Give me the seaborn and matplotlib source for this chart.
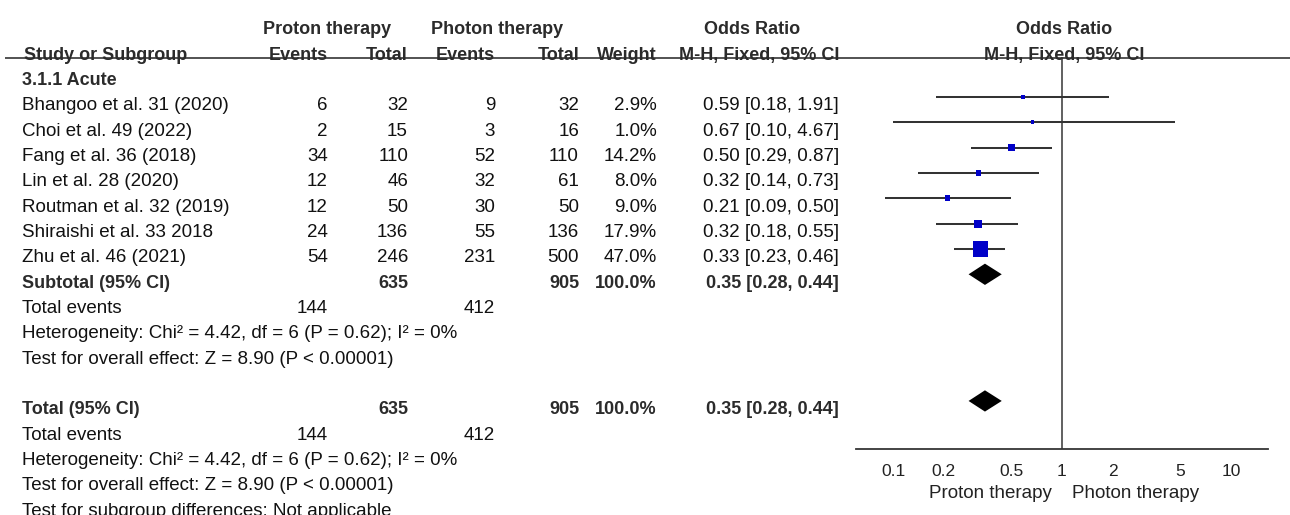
import matplotlib
matplotlib.use("Agg")
import matplotlib.pyplot as plt
import seaborn as sns
import pandas as pd
import numpy as np
from matplotlib.ticker import NullLocator

# ---------------- data ----------------
studies = ["Bhangoo et al. 31 (2020)", "Choi et al. 49 (2022)", "Fang et al. 36 (2018)",
           "Lin et al. 28 (2020)", "Routman et al. 32 (2019)", "Shiraishi et al. 33 2018",
           "Zhu et al. 46 (2021)"]
proton_events = [6, 2, 34, 12, 12, 24, 54]
proton_total = [32, 15, 110, 46, 50, 136, 246]
photon_events = [9, 3, 52, 32, 30, 55, 231]
photon_total = [32, 16, 110, 61, 50, 136, 500]
weights = [2.9, 1.0, 14.2, 8.0, 9.0, 17.9, 47.0]
or_est = [0.59, 0.67, 0.50, 0.32, 0.21, 0.32, 0.33]
or_lo = [0.18, 0.10, 0.29, 0.14, 0.09, 0.18, 0.23]
or_hi = [1.91, 4.67, 0.87, 0.73, 0.50, 0.55, 0.46]

pooled_or = [0.35, 0.28, 0.44]          # estimate, low, high
sum_proton_total = 635
sum_photon_total = 905
sum_proton_events = 144
sum_photon_events = 412
sum_weight = "100.0%"

tick_values = [0.1, 0.2, 0.5, 1, 2, 5, 10]
tick_labels = ["0.1", "0.2", "0.5", "1", "2", "5", "10"]

het_text = "Heterogeneity: Chi² = 4.42, df = 6 (P = 0.62); I² = 0%"
effect_text = "Test for overall effect: Z = 8.90 (P < 0.00001)"
subgroup_text = "Test for subgroup differences: Not applicable"

# ---------------- style ----------------
sns.set_theme(style="white")
plt.rcParams["font.family"] = ["Liberation Sans", "DejaVu Sans"]

W, H = 1290, 515
fig = plt.figure(figsize=(W / 100, H / 100), dpi=100)

TXT = "#111111"
HDR = "#2b2b2b"
LINE = "#353535"
FS = 13.5
FS_B = 13

ROW_C0, ROW_H = 28.0, 25.33     # text centre (px) of row 0, row height
MARK_OFF = -7.0                  # markers sit a little above text centre

def base(r):
    return ROW_C0 + ROW_H * r + 6.3

tab = fig.add_axes([0, 0, 1, 1])
tab.set_xlim(0, W)
tab.set_ylim(H, 0)
tab.axis("off")

def t(x, r, s, ha="left", bold=False, color=TXT):
    tab.text(x, base(r), s, ha=ha, va="baseline", fontsize=FS_B if bold else FS,
             fontweight="bold" if bold else "normal", color=color)

# column anchors (px)
X_NAME = 22
X_PE, X_PT, X_HE, X_HT, X_W, X_OR = 328, 408, 495, 579, 657, 839

# header
t(327, 0, "Proton therapy", ha="center", bold=True, color=HDR)
t(497, 0, "Photon therapy", ha="center", bold=True, color=HDR)
t(752, 0, "Odds Ratio", ha="center", bold=True, color=HDR)
t(1064, 0, "Odds Ratio", ha="center", bold=True, color=HDR)
t(24, 1, "Study or Subgroup", bold=True, color=HDR)
t(X_PE, 1, "Events", ha="right", bold=True, color=HDR)
t(X_PT, 1, "Total", ha="right", bold=True, color=HDR)
t(X_HE, 1, "Events", ha="right", bold=True, color=HDR)
t(X_HT, 1, "Total", ha="right", bold=True, color=HDR)
t(X_W, 1, "Weight", ha="right", bold=True, color=HDR)
t(759, 1, "M-H, Fixed, 95% CI", ha="center", bold=True, color=HDR)
t(1064, 1, "M-H, Fixed, 95% CI", ha="center", bold=True, color=HDR)
tab.plot([5, W], [58, 58], color=LINE, lw=1.2, solid_capstyle="butt")

t(X_NAME, 2, "3.1.1 Acute", bold=True, color=HDR)
for i, name in enumerate(studies):
    r = 3 + i
    t(X_NAME, r, name)
    t(X_PE, r, str(proton_events[i]), ha="right")
    t(X_PT, r, str(proton_total[i]), ha="right")
    t(X_HE, r, str(photon_events[i]), ha="right")
    t(X_HT, r, str(photon_total[i]), ha="right")
    t(X_W, r, f"{weights[i]:.1f}%", ha="right")
    t(X_OR, r, f"{or_est[i]:.2f} [{or_lo[i]:.2f}, {or_hi[i]:.2f}]", ha="right")

or_sum_txt = f"{pooled_or[0]:.2f} [{pooled_or[1]:.2f}, {pooled_or[2]:.2f}]"
for r0, label in [(10, "Subtotal (95% CI)"), (15, "Total (95% CI)")]:
    t(X_NAME, r0, label, bold=True, color=HDR)
    t(X_PT, r0, str(sum_proton_total), ha="right", bold=True, color=HDR)
    t(X_HT, r0, str(sum_photon_total), ha="right", bold=True, color=HDR)
    t(X_W, r0, sum_weight, ha="right", bold=True, color=HDR)
    t(X_OR, r0, or_sum_txt, ha="right", bold=True, color=HDR)
    t(X_NAME, r0 + 1, "Total events")
    t(X_PE, r0 + 1, str(sum_proton_events), ha="right")
    t(X_HE, r0 + 1, str(sum_photon_events), ha="right")
    t(X_NAME, r0 + 2, het_text)
    t(X_NAME, r0 + 3, effect_text)
t(X_NAME, 19, subgroup_text)

# ---------------- forest panel ----------------
AX_L, AX_R, AX_T, AX_B = 856, 1268, 58, 449
fax = fig.add_axes([AX_L / W, (H - AX_B) / H, (AX_R - AX_L) / W, (AX_B - AX_T) / H])
fax.patch.set_alpha(0)
fax.set_xscale("log")
half = 1.219
fax.set_xlim(10 ** -half, 10 ** half)
def to_row(ypx):
    return (ypx - ROW_C0 - MARK_OFF) / ROW_H
fax.set_ylim(to_row(AX_B), to_row(AX_T))

rows = [3 + i for i in range(len(studies))]
df = pd.DataFrame({"study": studies, "or": or_est, "lo": or_lo, "hi": or_hi,
                   "weight": weights, "row": rows})

# square side grows with study weight (RevMan style)
size_map = {w: ((3.5 + 0.25 * w) * 0.72) ** 2 for w in weights}

fax.hlines(df["row"], df["lo"], df["hi"], color="#333333", lw=1.45, zorder=2)
sns.scatterplot(data=df, x="or", y="row", size="weight", sizes=size_map,
                marker="s", color="#0000C8", edgecolor="none", linewidth=0,
                legend=False, ax=fax, zorder=3)

dh = 0.42
for r0 in (10, 15):
    est, lo, hi = pooled_or
    fax.fill([lo, est, hi, est], [r0, r0 - dh, r0, r0 + dh], color="black", lw=0, zorder=3)

fax.axvline(1, color=LINE, lw=1.1, zorder=1)

for sp in ["top", "left", "right"]:
    fax.spines[sp].set_visible(False)
fax.spines["bottom"].set_color(LINE)
fax.spines["bottom"].set_linewidth(1.3)
fax.set_xticks(tick_values)
fax.set_xticklabels(tick_labels)
fax.xaxis.set_minor_locator(NullLocator())
fax.set_yticks([])
fax.tick_params(axis="x", direction="inout", length=9, width=1.2, color=LINE,
                pad=6.5, labelsize=12.5, labelcolor="#222222")
fax.set_xlabel("")
fax.set_ylabel("")

tab.text(1052, 493, "Proton therapy", ha="right", va="center", fontsize=FS, color="#222222")
tab.text(1072, 493, "Photon therapy", ha="left", va="center", fontsize=FS, color="#222222")

fig.savefig("out.png", dpi=100)
